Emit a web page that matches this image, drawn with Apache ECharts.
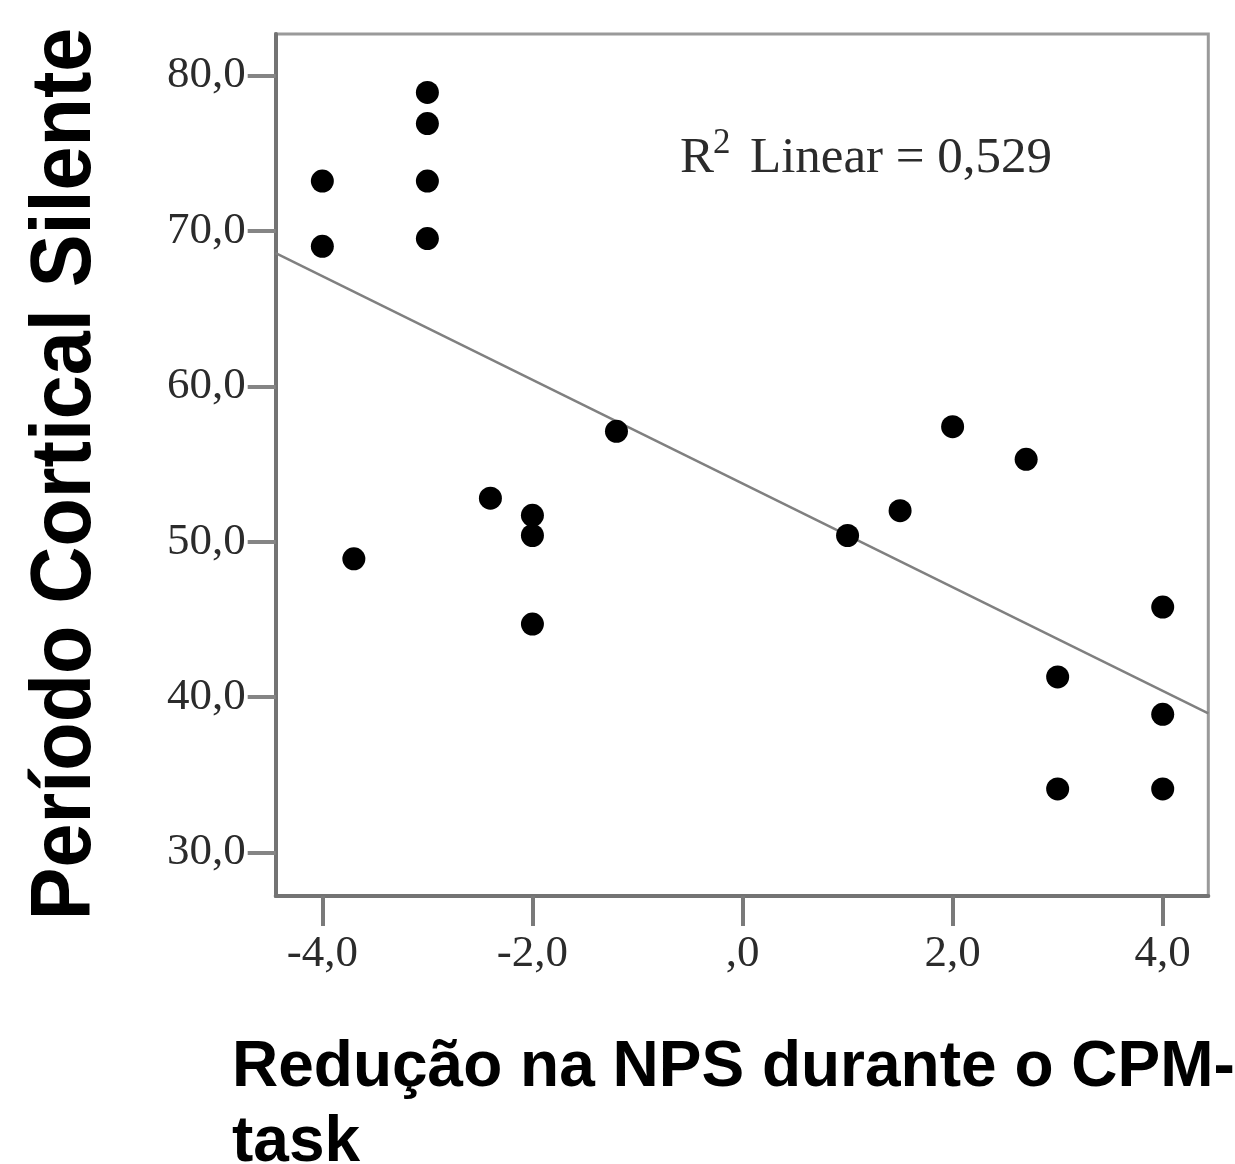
<!DOCTYPE html>
<html>
<head>
<meta charset="utf-8">
<script src="https://cdn.jsdelivr.net/npm/echarts@6/dist/echarts.min.js"></script>
<style>
html,body{margin:0;padding:0;background:#fff;}
#chart{width:1235px;height:1164px;}
</style>
</head>
<body>
<div id="chart"></div>
<script>
// ---- data ----
const xValues = [-4.0, -4.0, -3.0, -3.0, -3.0, -3.0, -3.7, -2.4, -2.0, -2.0, -2.0, -1.2, 1.0, 1.5, 2.0, 2.7, 3.0, 3.0, 4.0, 4.0, 4.0];
const yValues = [73.2, 69.0, 78.9, 76.9, 73.2, 69.5, 48.9, 52.8, 51.7, 50.4, 44.7, 57.1, 50.4, 52.0, 57.4, 55.3, 41.3, 34.1, 45.8, 38.9, 34.1];
const xTickValues = [-4, -2, 0, 2, 4];
const xTickLabels = ['-4,0', '-2,0', ',0', '2,0', '4,0'];
const yTickValues = [30, 40, 50, 60, 70, 80];
const yTickLabels = ['30,0', '40,0', '50,0', '60,0', '70,0', '80,0'];
const xTitle = ['Redução na NPS durante o CPM-', 'task'];
const yTitle = 'Período Cortical Silente';
const fitLabel = 'Linear = 0,529';

const X_MIN = -4.444, X_MAX = 4.434, Y_MIN = 27.21, Y_MAX = 82.66;

// least-squares fit of the points
const n = xValues.length;
const mx = xValues.reduce((a, b) => a + b, 0) / n;
const my = yValues.reduce((a, b) => a + b, 0) / n;
let sxy = 0, sxx = 0;
for (let i = 0; i < n; i++) { sxy += (xValues[i] - mx) * (yValues[i] - my); sxx += (xValues[i] - mx) ** 2; }
const slope = sxy / sxx, intercept = my - slope * mx;
const fitLine = [[X_MIN, intercept + slope * X_MIN], [X_MAX, intercept + slope * X_MAX]];
const points = xValues.map((x, i) => [x, yValues[i]]);

const chart = echarts.init(document.getElementById('chart'), null, {renderer: 'canvas'});
const serif = '"Liberation Serif", "Times New Roman", serif';
const sans = '"Liberation Sans", Arial, sans-serif';

chart.setOption({
  backgroundColor: '#ffffff',
  animation: false,
  grid: {left: 275.7, top: 34, width: 932.6, height: 862, show: true, borderColor: '#9a9a9a', borderWidth: 3, containLabel: false},
  xAxis: {
    type: 'value', min: X_MIN, max: X_MAX,
    splitLine: {show: false},
    axisLine: {show: true, onZero: false, lineStyle: {color: '#737373', width: 4}},
    axisTick: {show: true, customValues: xTickValues, length: 30, lineStyle: {color: '#7a7a7a', width: 4}},
    axisLabel: {show: true, customValues: xTickValues, margin: 36, fontFamily: serif, fontSize: 45, color: '#2b2b2b',
      formatter: v => xTickLabels[xTickValues.indexOf(Math.round(v))]}
  },
  yAxis: {
    type: 'value', min: Y_MIN, max: Y_MAX,
    splitLine: {show: false},
    axisLine: {show: true, onZero: false, lineStyle: {color: '#737373', width: 4}},
    axisTick: {show: true, customValues: yTickValues, length: 28, lineStyle: {color: '#858585', width: 4}},
    axisLabel: {show: true, customValues: yTickValues, margin: 30, fontFamily: serif, fontSize: 45, color: '#2b2b2b',
      padding: [7, 0, 0, 0],
      formatter: v => yTickLabels[yTickValues.indexOf(Math.round(v))]}
  },
  series: [
    {type: 'line', data: fitLine, showSymbol: false, symbol: 'none', lineStyle: {color: '#808080', width: 2.5}, z: 2, silent: true},
    {type: 'scatter', data: points, symbol: 'circle', symbolSize: 23, itemStyle: {color: '#000000', opacity: 1}, z: 3}
  ],
  graphic: [
    {type: 'text', x: 680, y: 184, style: {text: 'R', font: '51px ' + serif, fill: '#2b2b2b', verticalAlign: 'bottom'}},
    {type: 'text', x: 713, y: 126, style: {text: '2', font: '35px ' + serif, fill: '#2b2b2b', verticalAlign: 'top'}},
    {type: 'text', x: 750, y: 184, style: {text: fitLabel, font: '51px ' + serif, fill: '#2b2b2b', verticalAlign: 'bottom'}},
    {type: 'text', x: 232, y: 1068, style: {text: xTitle[0], font: 'bold 64px ' + sans, fill: '#000', verticalAlign: 'middle'}},
    {type: 'text', x: 232, y: 1143, style: {text: xTitle[1], font: 'bold 64px ' + sans, fill: '#000', verticalAlign: 'middle'}},
    {type: 'text', x: 66, y: 474, rotation: Math.PI / 2, scaleX: 0.92,
      style: {text: yTitle, font: 'bold 86px ' + sans, fill: '#000', align: 'center', verticalAlign: 'middle'}}
  ]
});
</script>
</body>
</html>
